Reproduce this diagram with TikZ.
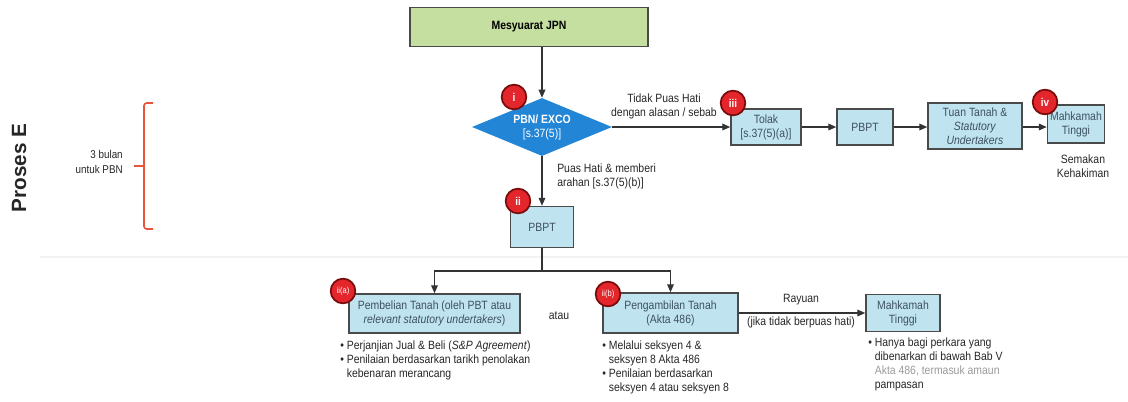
\documentclass[tikz,border=0pt]{standalone}
\usepackage{fontspec}
\setmainfont{Liberation Sans}[FakeStretch=0.87]
\newfontfamily\plainsans{Liberation Sans}
\usetikzlibrary{arrows.meta,shapes.geometric}
\definecolor{boxblue}{HTML}{BFE4F0}
\definecolor{boxline}{HTML}{4A4A4A}
\definecolor{boxtext}{HTML}{3E5060}
\definecolor{greenfill}{HTML}{C4DFA0}
\definecolor{diablue}{HTML}{2285D6}
\definecolor{badgered}{HTML}{E3262B}
\definecolor{badgedark}{HTML}{7A0B0B}
\definecolor{linegray}{HTML}{333333}
\definecolor{bracered}{HTML}{E8553F}
\definecolor{fadedtext}{HTML}{9A9A9A}
\begin{document}
\begin{tikzpicture}[x=0.75pt,y=-0.75pt,
  font=\fontsize{9}{10.5}\selectfont,
  box/.style={draw=boxline, line width=1.1pt, fill=boxblue, text=boxtext, align=center, inner sep=1pt},
  badge/.style={circle, fill=badgered, draw=badgedark, line width=1.3pt, minimum size=18.5pt, inner sep=0pt, text=white, font=\fontsize{8.5}{8.5}\selectfont\bfseries},
  arr/.style={-{Triangle[length=6pt,width=5pt]}, line width=1pt, draw=linegray},
  lbl/.style={text=black!85, inner sep=0pt},
  bul/.style={text=black!85, inner sep=0pt, align=left, anchor=north west}]
\useasboundingbox (0,0) rectangle (1128,401);

% faint separator
\draw[black!5, line width=1pt] (40,257) -- (1128,257);

% left label and brace
\node[lbl, rotate=90, font=\plainsans\fontsize{15.5}{15.5}\selectfont\bfseries] (proses) at (19,168) {Proses E};
\node[lbl, align=right, anchor=east, font=\fontsize{8.5}{11}\selectfont] (bulan) at (123,162) {3 bulan\\untuk PBN};
\coordinate (btop) at (153,103);
\coordinate (bbot) at (153,229);
\coordinate (bmid) at (134,166);
\draw[bracered, line width=1.2pt, rounded corners=2pt] (btop) -- (144,103) -- (144,229) -- (bbot);
\draw[bracered, line width=1.2pt] (144,166) -- (bmid);

% top row
\node[draw=boxline, line width=1.1pt, fill=greenfill, minimum width=178.5pt, minimum height=29.25pt, font=\fontsize{9}{10.5}\selectfont\bfseries] (jpn) at (529,27) {Mesyuarat JPN};
\node[diamond, fill=diablue, text=white, aspect=2.4, inner sep=0pt, minimum width=105pt, minimum height=43.5pt, align=center] (dia) at (542,127) {\textbf{PBN/ EXCO}\\{[s.37(5)]}};
\node[box, minimum width=52.5pt, minimum height=27pt] (tolak) at (766,127) {Tolak\\{[s.37(5)(a)]}};
\node[box, minimum width=42pt, minimum height=27pt] (pbpt2) at (865,127) {PBPT};
\node[box, minimum width=70.5pt, minimum height=34.5pt] (tuan) at (975,126) {Tuan Tanah \&\\\textit{Statutory}\\\textit{Undertakers}};
\node[box, minimum width=42.75pt, minimum height=28.5pt] (mt1) at (1076,124) {Mahkamah\\Tinggi};
\node[lbl, align=center] (semakan) at (1083,166) {Semakan\\Kehakiman};

\draw[arr] (dia.north |- jpn.south) -- (dia.north);
\draw[arr] (dia.east) -- (tolak.west);
\draw[arr] (tolak.east) -- (pbpt2.west);
\draw[arr] (pbpt2.east) -- (tuan.west |- pbpt2.east);
\draw[arr] (tuan.east |- pbpt2.east) -- (mt1.west |- pbpt2.east);

\node[lbl, align=center] (tidak) at (664,106) {Tidak Puas Hati\\dengan alasan / sebab};

% middle
\node[box, minimum width=47.25pt, minimum height=30.75pt] (pbptii) at (542,227) {PBPT};
\draw[arr] (dia.south) -- (pbptii.north);
\node[lbl, align=left, anchor=north west] (puas) at (557,164) {Puas Hati \& memberi\\arahan [s.37(5)(b)]};

% bottom row
\node[box, minimum width=128.25pt, minimum height=29.25pt] (iia) at (434.5,313.5) {Pembelian Tanah (oleh PBT atau\\\textit{relevant statutory undertakers})};
\node[box, minimum width=101.25pt, minimum height=30pt] (iib) at (670.5,313) {Pengambilan Tanah\\(Akta 486)};
\node[box, minimum width=55.5pt, minimum height=27.75pt] (mt2) at (903,313) {Mahkamah\\Tinggi};

\coordinate (split) at (542,271);
\draw[arr] (pbptii.south) -- (split) -| (iia.north);
\draw[arr] (split) -| (iib.north);
\draw[arr] (iib.east) -- (mt2.west);

\node[lbl] (rayuan) at (801,300) {Rayuan};
\node[lbl] (jika) at (801,322) {(jika tidak berpuas hati)};
\node[lbl] (atau) at (559,316) {atau};

\node[bul] (bula) at (340,341) {• Perjanjian Jual \& Beli (\textit{S\&P Agreement})\\
• Penilaian berdasarkan tarikh penolakan\\
\phantom{• }kebenaran merancang};
\node[bul] (bulb) at (602,341) {• Melalui seksyen 4 \&\\
\phantom{• }seksyen 8 Akta 486\\
• Penilaian berdasarkan\\
\phantom{• }seksyen 4 atau seksyen 8};
\node[bul] (bulc) at (868,338) {• Hanya bagi perkara yang\\
\phantom{• }dibenarkan di bawah Bab V\\
\phantom{• }\textcolor{fadedtext}{Akta 486, termasuk amaun}\\
\phantom{• }pampasan};

% badges
\node[badge] (b1) at (514,97) {i};
\node[badge] (b3) at (733,103) {iii};
\node[badge] (b4) at (1045,102) {iv};
\node[badge] (b2) at (518,201) {ii};
\node[badge, font=\fontsize{6.5}{6.5}\selectfont] (b2a) at (343,291) {ii(a)};
\node[badge, font=\fontsize{6.5}{6.5}\selectfont] (b2b) at (608,294) {ii(b)};
\end{tikzpicture}
\end{document}
